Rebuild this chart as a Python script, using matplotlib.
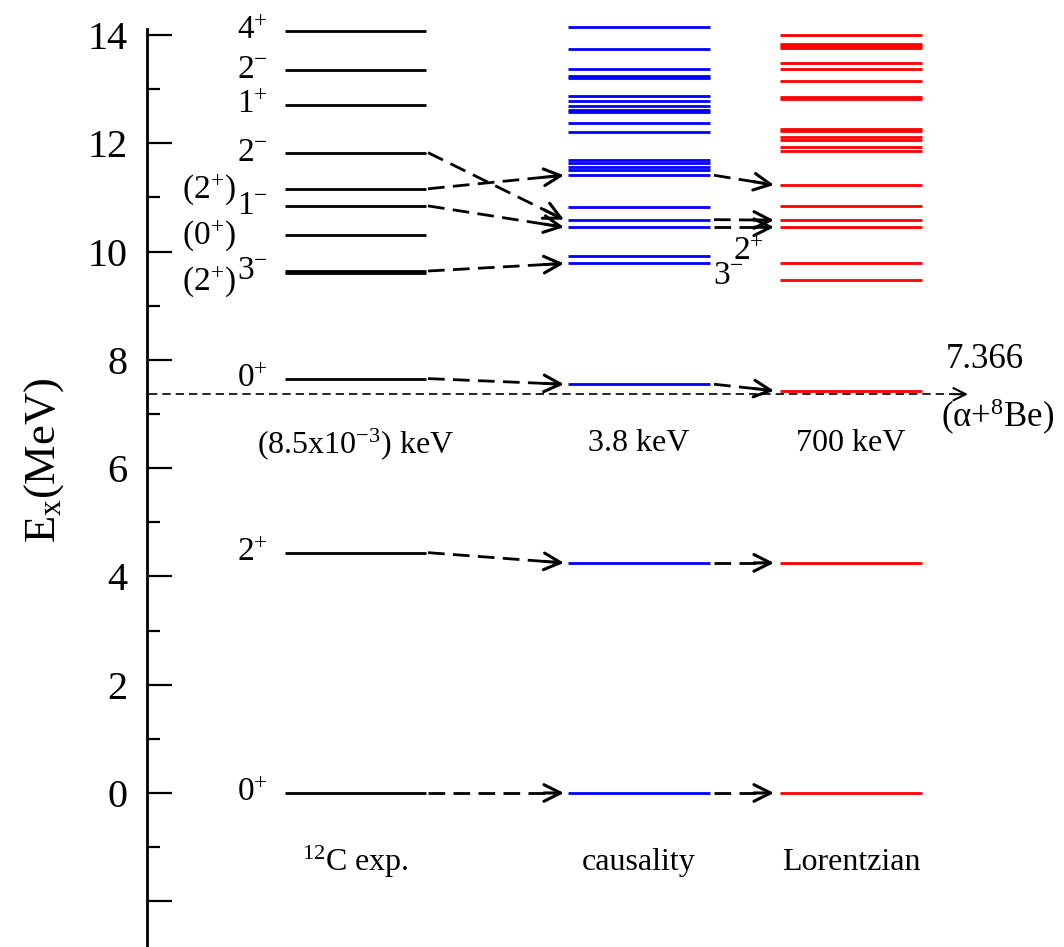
import matplotlib.pyplot as plt
from matplotlib.ticker import FixedLocator

plt.rcParams['font.family'] = ['Liberation Serif', 'DejaVu Serif']
plt.rcParams['mathtext.fontset'] = 'custom'
plt.rcParams['mathtext.rm'] = 'Liberation Serif'
plt.rcParams['mathtext.it'] = 'Liberation Serif:italic'

# level energies (MeV)
exp_levels = [0.0, 4.439, 7.654, 9.60, 9.641, 10.30, 10.844, 11.16, 11.828, 12.710, 13.352, 14.083]
exp_labels = {0.0: "0^{+}", 4.439: "2^{+}", 7.654: "0^{+}", 9.641: "3^{-}", 10.844: "1^{-}",
              11.828: "2^{-}", 12.710: "1^{+}", 13.352: "2^{-}", 14.083: "4^{+}"}
exp_paren = {11.16: "(2^{+})", 10.30: "(0^{+})", 9.45: "(2^{+})"}

caus_levels = [0.0, 4.25, 7.55, 9.78, 9.92, 10.45, 10.59, 10.82, 11.41, 11.51, 11.57, 11.63, 11.69,
               12.21, 12.38, 12.57, 12.62, 12.68, 12.78, 12.87, 13.20, 13.24, 13.37, 13.74, 14.15]
lor_levels = [0.0, 4.25, 7.43, 9.48, 9.79, 10.45, 10.58, 10.84, 11.23, 11.86, 11.94, 12.07, 12.11,
              12.23, 12.27, 12.81, 12.86, 13.15, 13.38, 13.48, 13.76, 13.80, 13.83, 14.00]

# transitions: (from, to)
exp_to_caus = [(0.0, 0.0), (4.439, 4.25), (7.654, 7.55), (9.641, 9.78), (10.844, 10.45),
               (11.16, 11.41), (11.828, 10.59)]
caus_to_lor = [(0.0, 0.0), (4.25, 4.25), (7.55, 7.43), (11.41, 11.23), (10.59, 10.58), (10.45, 10.45)]

threshold = 7.366
widths = ["(8.5x10$^{-3}$) keV", "3.8 keV", "700 keV"]
names = ["$^{12}$C exp.", "causality", "Lorentzian"]

# column extents (layout, pixel-like units)
cols = [(285, 426), (568, 710), (780, 922)]
colors = ["black", "blue", "red"]

fig = plt.figure(figsize=(10.64, 9.47), dpi=100)
ax = fig.add_axes([147 / 1064, 0, 1 - 147 / 1064, 1])
ax.set_xlim(147, 1064)
ax.set_ylim(-2.845, 14.647)

for lv_set, (x0, x1), c in zip([exp_levels, caus_levels, lor_levels], cols, colors):
    for e in lv_set:
        ax.plot([x0, x1], [e, e], color=c, lw=2.0, solid_capstyle='butt')

for e, lab in exp_labels.items():
    ax.text(268, e, "$\\mathregular{" + lab + "}$", ha='right', va='center', fontsize=24)
for e, lab in exp_paren.items():
    ax.text(236, e, "$\\mathregular{" + lab + "}$", ha='right', va='center', fontsize=24)

def arrow(xa, ya, xb, yb):
    ax.plot([xa, xb - 6], [ya, ya + (yb - ya) * (xb - 6 - xa) / (xb - xa)], color='black',
            lw=2, dashes=(6, 3))
    ax.annotate("", xy=(xb, yb), xytext=(xb - 20, yb - (yb - ya) * 20 / (xb - xa)),
                arrowprops=dict(arrowstyle='->', lw=2.2, color='black', mutation_scale=30,
                                shrinkA=0, shrinkB=0))

for a, b in exp_to_caus:
    arrow(cols[0][1] + 2, a, cols[1][0] - 4, b)
for a, b in caus_to_lor:
    arrow(cols[1][1] + 4, a, cols[2][0] - 6, b)

ax.text(728, 9.55, "$\\mathregular{3^{-}}$", ha='center', va='center', fontsize=24)
ax.text(748, 10.0, "$\\mathregular{2^{+}}$", ha='center', va='center', fontsize=24)

# alpha + 8Be threshold
ax.plot([149, 955], [threshold, threshold], color='black', lw=1.2, dashes=(5, 3))
ax.annotate("", xy=(968, threshold), xytext=(952, threshold),
            arrowprops=dict(arrowstyle='->', lw=1.5, color='black', mutation_scale=22,
                            shrinkA=0, shrinkB=0))
ax.text(985, 8.0, "%.3f" % threshold, ha='center', va='center', fontsize=25)
ax.text(998, 6.95, r"($\mathregular{\alpha}$+$\mathregular{^{8}}$Be)", ha='center', va='center', fontsize=25)

for (x0, x1), w, n in zip(cols, widths, names):
    ax.text((x0 + x1) / 2, 6.45, w, ha='center', va='center', fontsize=23)
    ax.text((x0 + x1) / 2, -1.28, n, ha='center', va='center', fontsize=23)

# axis styling
for s in ['top', 'right', 'bottom']:
    ax.spines[s].set_visible(False)
ax.spines['left'].set_linewidth(2)
ax.spines['left'].set_bounds(-2.845, 14.12)
ax.set_xticks([])
ax.yaxis.set_major_locator(FixedLocator([-2, 0, 2, 4, 6, 8, 10, 12, 14]))
ax.yaxis.set_minor_locator(FixedLocator([-1, 1, 3, 5, 7, 9, 11, 13]))
ax.set_yticklabels(["", "0", "2", "4", "6", "8", "10", "12", "14"])
ax.tick_params(axis='y', which='major', direction='in', length=18, width=1.6, labelsize=29, pad=14)
ax.tick_params(axis='y', which='minor', direction='in', length=9, width=1.6)
ax.set_ylabel(r"$\mathregular{E_x}$(MeV)", fontsize=32)
ax.yaxis.set_label_coords(-0.088, 0.514)

fig.savefig("out.png", dpi=100)
